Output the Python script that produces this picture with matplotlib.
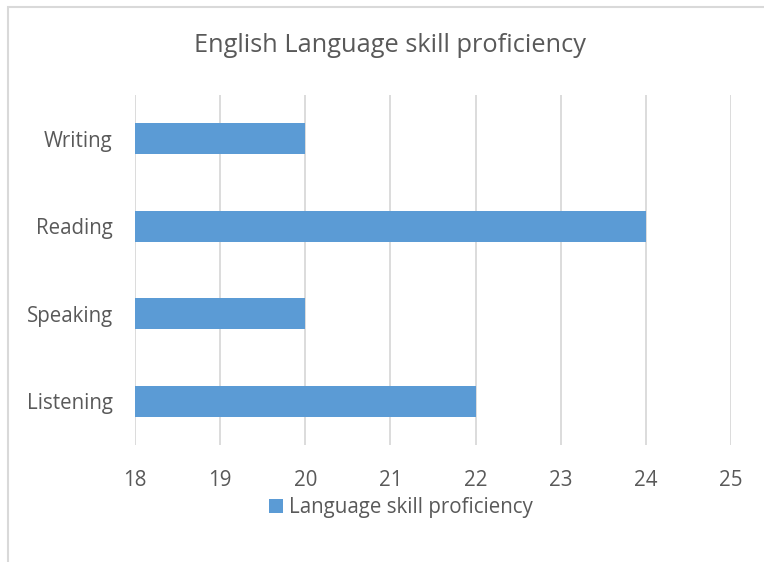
import matplotlib.pyplot as plt
from matplotlib.patches import Rectangle

# Dados
skills = ["Listening", "Speaking", "Reading", "Writing"]
scores = [22, 20, 24, 20]
x_ticks = [18, 19, 20, 21, 22, 23, 24, 25]

bar_color = "#5b9bd5"
text_color = "#595959"
grid_color = "#d9d9d9"

plt.rcParams["font.family"] = ["Open Sans", "DejaVu Sans"]

fig = plt.figure(figsize=(7.64, 5.62), dpi=100)
ax = fig.add_axes([135 / 764, 1 - 445 / 562, 596 / 764, 350 / 562])

ax.barh(skills, [s - 18 for s in scores], left=18, height=0.35,
        color=bar_color, label="Language skill proficiency", zorder=3)

ax.set_xlim(18, 25)
ax.set_ylim(-0.5, 3.5)
ax.set_xticks(x_ticks)
ax.grid(axis="x", color=grid_color, linewidth=1.3, zorder=0)
for side in ["top", "right", "bottom", "left"]:
    ax.spines[side].set_visible(False)
ax.tick_params(axis="x", length=0, pad=18, labelsize=14.8, labelcolor=text_color)
ax.tick_params(axis="y", length=0, pad=16, labelsize=14.8, labelcolor=text_color)

fig.text(390 / 764, 1 - 46 / 562, "English Language skill proficiency",
         ha="center", va="center", fontsize=18.3, color=text_color)

fig.legend(loc="center", bbox_to_anchor=(401 / 764, 1 - 508 / 562), frameon=False,
           fontsize=14.8, labelcolor=text_color, handlelength=0.65, handleheight=0.65,
           handletextpad=0.3)

# Borda do gráfico (cortada à direita e embaixo)
fig.patches.append(Rectangle((8 / 764, -0.05), 1.1, 1 - 7 / 562 + 0.05,
                             transform=fig.transFigure, fill=False,
                             edgecolor="#d9d9d9", linewidth=1.5))

fig.savefig("out.png", dpi=100)
